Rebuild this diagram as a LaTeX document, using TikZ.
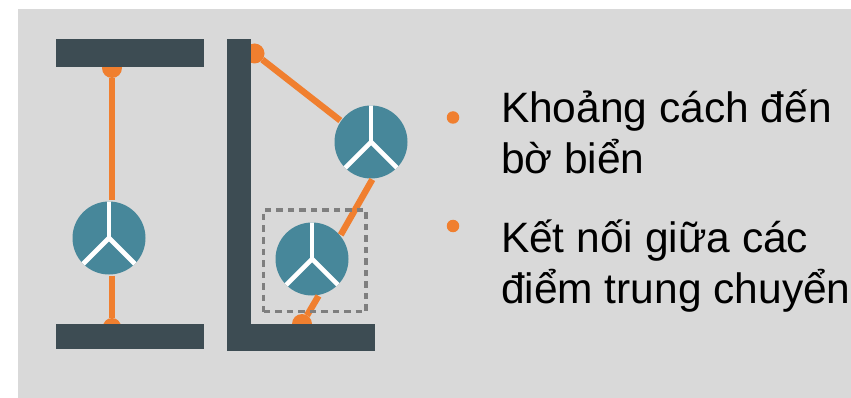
\documentclass[tikz,border=0pt]{standalone}
\usepackage{fontspec}
\setmainfont{Liberation Sans}
\definecolor{panel}{HTML}{D9D9D9}
\definecolor{barcol}{HTML}{3D4C53}
\definecolor{hubcol}{HTML}{47879A}
\definecolor{orangecol}{HTML}{F07F2F}
\definecolor{dashcol}{HTML}{7F7F7F}
\tikzset{
  barbox/.style={fill=barcol,draw=none,inner sep=0,outer sep=0,rectangle},
  anchordot/.style={circle,fill=orangecol,draw=none,minimum size=20pt,inner sep=0,outer sep=0},
  bulletdot/.style={circle,fill=orangecol,draw=none,minimum size=12.5pt,inner sep=0,outer sep=0},
  link/.style={draw=orangecol,line width=6.4pt},
  hub/.style={circle,fill=hubcol,draw=none,minimum size=73pt,inner sep=0,outer sep=1pt,
    path picture={
      \draw[white,line width=4.6pt] (path picture bounding box.center) -- ++(0,40pt);
      \draw[white,line width=4.6pt] (path picture bounding box.center) -- ++(-30pt,-30pt);
      \draw[white,line width=4.6pt] (path picture bounding box.center) -- ++(30pt,-30pt);
    }},
  label text/.style={anchor=base west,align=left,inner sep=0,outer sep=0,text=black,
    font=\fontsize{42.5pt}{51.5pt}\selectfont},
}
\begin{document}
\begin{tikzpicture}[x=1pt,y=-1pt]
  \useasboundingbox (0,0) rectangle (851,398);
  \fill[white] (0,0) rectangle (851,398);
  \fill[panel] (17.5,9) rectangle (851,398);
  % anchor dots behind the bars
  \node[anchordot] (dotA) at (112,68) {};
  \node[anchordot,minimum size=18pt] (dotB) at (112,327) {};
  \node[anchordot] (dotC) at (254.5,53.5) {};
  \node[anchordot] (dotD) at (302,324) {};
  % hubs
  \node[hub] (hubA) at (109,238) {};
  \node[hub] (hubB) at (371,142) {};
  \node[hub] (hubC) at (312,259) {};
  % connectors
  \draw[link] (dotA) -- (dotA |- hubA.north);
  \draw[link] (dotB |- hubA.south) -- (dotB);
  \draw[link] (dotC) -- (hubB.145);
  \draw[link] (hubB.-88) -- (hubC.40);
  \draw[link] (hubC.-80) -- (dotD);
  % bars
  \node[barbox,minimum width=148pt,minimum height=28.5pt] (barTop) at (129.5,53.25) {};
  \node[barbox,minimum width=148pt,minimum height=25pt] (barBottom) at (129.5,336.5) {};
  \node[barbox,minimum width=24.5pt,minimum height=311.5pt] (wallV) at (238.75,194.75) {};
  \node[barbox,minimum width=148pt,minimum height=26.5pt] (wallH) at (300.5,337.25) {};
  % dashed frame
  \node[draw=dashcol,line width=3.6pt,dash pattern=on 6.5pt off 5pt,minimum width=102.5pt,minimum height=101.5pt,inner sep=0,rectangle] (frame) at (314.75,260.75) {};
  % bullets and text
  \node[bulletdot] (bulA) at (453,117.5) {};
  \node[bulletdot] (bulB) at (453,226) {};
  \node[label text] (txtA) at (501,174) {Khoảng cách đến\\bờ biển};
  \node[label text] (txtB) at (501,303.5) {Kết nối giữa các\\điểm trung chuyển};
\end{tikzpicture}
\end{document}
